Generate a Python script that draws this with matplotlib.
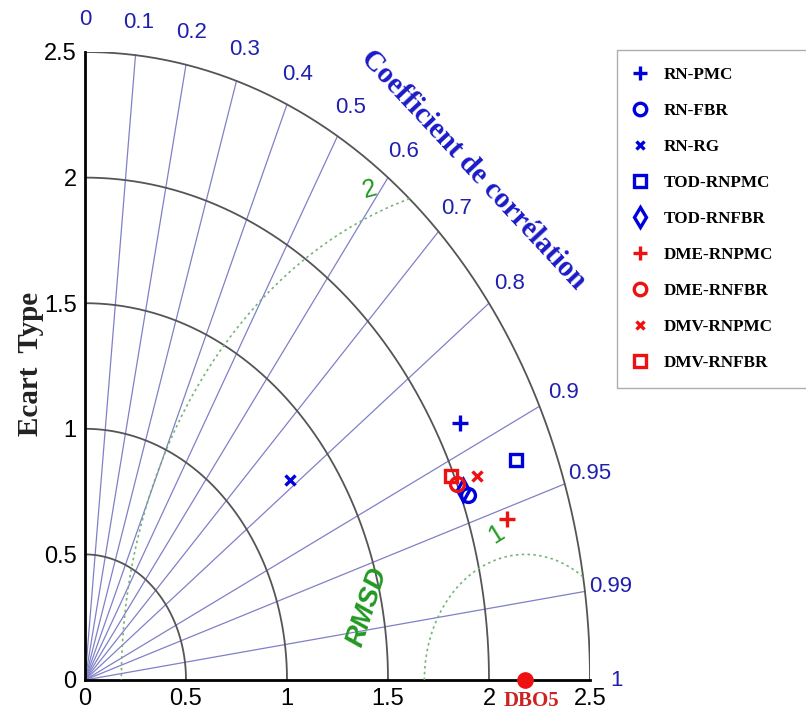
import numpy as np
import matplotlib.pyplot as plt
from matplotlib.lines import Line2D

# reference (observed) point
ref_std = 2.18
ref_name = 'DBO5'

# models: name, std-x, std-y (cartesian positions in the diagram), colour, marker
names = ['RN-PMC', 'RN-FBR', 'RN-RG', 'TOD-RNPMC', 'TOD-RNFBR',
         'DME-RNPMC', 'DME-RNFBR', 'DMV-RNPMC', 'DMV-RNFBR']
xs = [1.856, 1.896, 1.015, 2.134, 1.871, 2.089, 1.842, 1.941, 1.812]
ys = [1.024, 0.737, 0.797, 0.876, 0.757, 0.641, 0.781, 0.813, 0.813]
colors = ['#0000dd'] * 5 + ['#ee1111'] * 4
markers = ['+', 'o', 'x', 's', 'd', '+', 'o', 'x', 's']
msizes = [11, 10, 7, 9, 11, 11, 10, 7, 9]

std_rings = [0.5, 1.0, 1.5, 2.0, 2.5]
corr_ticks = [0.1, 0.2, 0.3, 0.4, 0.5, 0.6, 0.7, 0.8, 0.9, 0.95, 0.99]
corr_labels = ['0', '0.1', '0.2', '0.3', '0.4', '0.5', '0.6', '0.7', '0.8', '0.9', '0.95', '0.99', '1']
rms_rings = [0.5, 2.0]
rms_labels = ['1', '2']
rmax = 2.5

fig = plt.figure(figsize=(8.06, 7.19), dpi=100)
ax = fig.add_axes([85 / 806, 39 / 719, 505 / 806, 628 / 719])
ax.set_xlim(0, rmax)
ax.set_ylim(0, rmax)

# std arcs
th = np.linspace(0, np.pi / 2, 300)
for r in std_rings:
    ax.plot(r * np.cos(th), r * np.sin(th), color='#555555', lw=1.3, zorder=2)

# correlation rays
for c in corr_ticks:
    a = np.arccos(c)
    ax.plot([0, rmax * np.cos(a)], [0, rmax * np.sin(a)], color='#8080c8', lw=0.9, zorder=1)

# correlation labels
lab_vals = [0.0] + corr_ticks + [1.0]
for c, s in zip(lab_vals, corr_labels):
    a = np.arccos(c)
    ax.text(2.63 * np.cos(a), 2.63 * np.sin(a), s, color='#2020b0', fontsize=16,
            family='Liberation Sans', ha='center', va='center', clip_on=False)

# centred RMS arcs around the reference
tt = np.linspace(0, np.pi, 600)
for r in rms_rings:
    x = ref_std + r * np.cos(tt)
    y = r * np.sin(tt)
    m = np.hypot(x, y) > rmax
    x[m] = np.nan
    y[m] = np.nan
    ax.plot(x, y, color='#77b377', lw=1.2, ls=(0, (1.5, 2)), zorder=3)

ax.text(2.035, 0.58, rms_labels[0], color='#229922', fontsize=18, rotation=32,
        family='Liberation Sans', ha='center', va='center')
ax.text(1.411, 1.952, rms_labels[1], color='#229922', fontsize=18, rotation=15,
        family='Liberation Sans', ha='center', va='center')
ax.text(1.396, 0.291, 'RMSD', color='#229922', fontsize=20, rotation=72,
        family='Liberation Sans', style='italic', weight='bold', ha='center', va='center')

# models
for n, x, y, c, mk, ms in zip(names, xs, ys, colors, markers, msizes):
    ax.plot(x, y, ls='none', marker=mk, color=c, mfc='none', ms=ms, mew=2.4,
            label=n, zorder=5)

# reference point
ax.plot(ref_std, 0, 'o', color='#ee1111', ms=11, clip_on=False, zorder=6)
ax.text(2.21, -0.085, ref_name, color='#cc2222', fontsize=15, family='Liberation Serif',
        weight='bold', ha='center', va='center', clip_on=False)

ax.text(1.921, 2.032, 'Coefficient de corrélation', color='#1a1ac8', fontsize=21,
        family='Liberation Serif', weight='bold', rotation=-47,
        ha='center', va='center', clip_on=False)
ax.text(-0.272, 1.26, 'Ecart  Type', color='#222222', fontsize=21,
        family='Liberation Serif', weight='bold', rotation=90,
        ha='center', va='center', clip_on=False)

for s in ['top', 'right']:
    ax.spines[s].set_visible(False)
for s in ['left', 'bottom']:
    ax.spines[s].set_linewidth(2)
ax.set_xticks([0, 0.5, 1, 1.5, 2, 2.5])
ax.set_xticklabels(['0', '0.5', '1', '1.5', '2', '2.5'])
ax.set_yticks([0, 0.5, 1, 1.5, 2, 2.5])
ax.set_yticklabels(['0', '0.5', '1', '1.5', '2', '2.5'])
ax.tick_params(length=0, labelsize=17, pad=6)
for t in ax.get_xticklabels() + ax.get_yticklabels():
    t.set_family('Liberation Sans')

handles = [Line2D([], [], ls='none', marker=mk, color=c, mfc='none', ms=ms * 0.9, mew=2.4)
           for c, mk, ms in zip(colors, markers, msizes)]
leg = fig.legend(handles, names, loc='upper left',
                 bbox_to_anchor=(617 / 806, 1 - 50 / 719 - 0.01, 0.3, 0.01),
                 mode='expand', frameon=True, fancybox=False, labelspacing=1.17,
                 handlelength=0.75, handletextpad=1.0, borderpad=1.0, borderaxespad=0,
                 prop={'family': 'Liberation Serif', 'weight': 'bold', 'size': 12.3})
leg.get_frame().set_edgecolor('#999999')
leg.get_frame().set_linewidth(1)

fig.savefig('out.png', dpi=100)
